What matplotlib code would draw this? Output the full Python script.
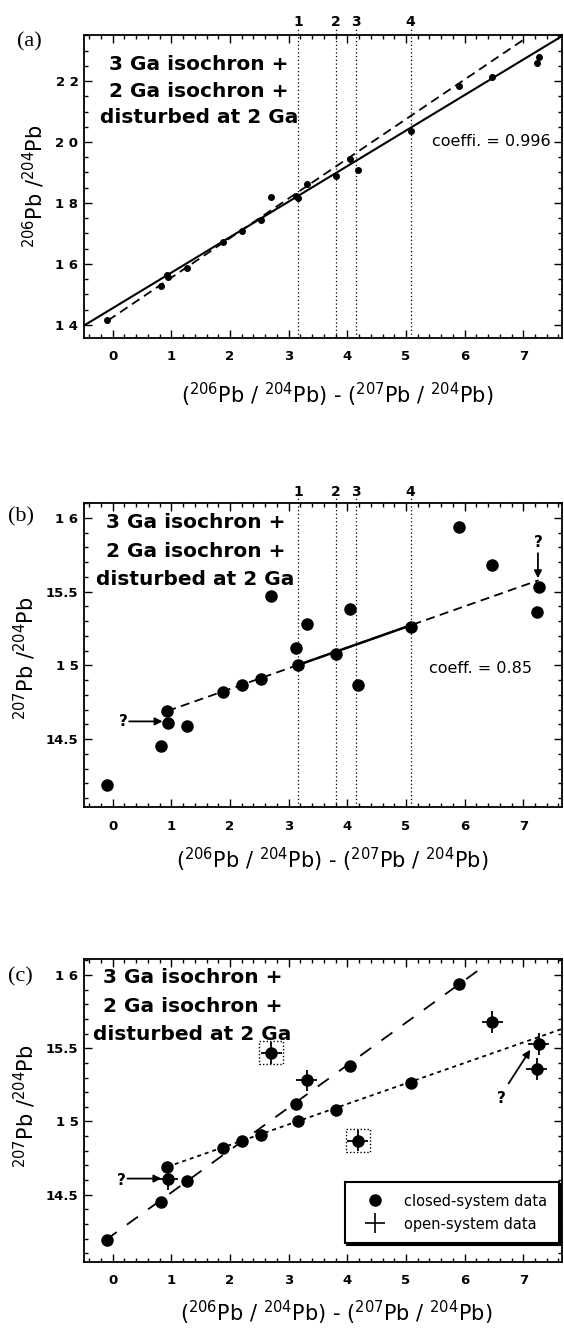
import matplotlib
matplotlib.use('Agg')
import matplotlib.pyplot as plt
from matplotlib.lines import Line2D
from matplotlib.patches import Rectangle
from matplotlib.ticker import MultipleLocator, FuncFormatter
import numpy as np

plt.rcParams['font.family'] = ['DejaVu Sans']
plt.rcParams['mathtext.fontset'] = 'dejavusans'

# values
x_diff = [-0.10, 0.82, 0.93, 0.94, 1.27, 1.88, 2.20, 2.52, 2.70, 3.12,
          3.16, 3.31, 3.80, 4.05, 4.18, 5.09, 5.90, 6.47, 7.23, 7.26]
pb206 = [14.15, 15.29, 15.63, 15.56, 15.88, 16.71, 17.09, 17.43, 18.18, 18.24,
         18.16, 18.62, 18.90, 19.45, 19.07, 20.36, 21.84, 22.14, 22.60, 22.79]
pb207 = [14.19, 14.45, 14.69, 14.61, 14.59, 14.82, 14.87, 14.91, 15.47, 15.12,
         15.00, 15.28, 15.08, 15.38, 14.87, 15.26, 15.94, 15.68, 15.36, 15.53]
open_system = [False, False, False, True, False, False, False, False, True, False,
               False, True, False, False, True, False, False, True, True, True]
boxed = [False, False, False, False, False, False, False, False, True, False,
         False, False, False, False, True, False, False, False, False, False]

ref_x = [3.16, 3.80, 4.14, 5.08]
ref_labels = ['1', '2', '3', '4']

# fitted lines: (intercept, slope, x_start, x_end)
fit_a_solid = (14.55, 1.165, -0.5, 7.7)
fit_a_dash = (14.25, 1.30, -0.08, 7.06)
fit_b = (14.56, 0.14, 0.93, 7.26)
fit_b_solid = (14.56, 0.14, 3.16, 5.09)
fit_c_steep = (14.225, 0.29, -0.12, 6.28)
fit_c_shallow = (14.56, 0.14, 0.93, 7.7)

title_lines = ['3 Ga isochron +', '2 Ga isochron +', 'disturbed at 2 Ga']

W, H = 564, 1330
fig = plt.figure(figsize=(W / 100, H / 100), dpi=100)


def add_axes(left, top, right, bottom):
    return fig.add_axes([left / W, 1 - bottom / H, (right - left) / W, (bottom - top) / H])


def spaced(v, pos):
    if abs(v - round(v)) < 1e-6:
        return ' '.join(str(int(round(v))))
    return f'{v:g}'


def style(ax, ylim, ymajor, yminor):
    ax.set_xlim(-0.49, 7.66)
    ax.set_ylim(*ylim)
    ax.xaxis.set_major_locator(MultipleLocator(1))
    ax.xaxis.set_minor_locator(MultipleLocator(0.2))
    ax.yaxis.set_major_locator(MultipleLocator(ymajor))
    ax.yaxis.set_minor_locator(MultipleLocator(yminor))
    ax.yaxis.set_major_formatter(FuncFormatter(spaced))
    ax.tick_params(which='both', direction='in', top=True, right=True, width=1.0)
    ax.tick_params(which='major', length=6)
    ax.tick_params(which='minor', length=3)
    ax.tick_params(axis='x', pad=9, labelsize=9.5)
    ax.tick_params(axis='y', pad=4, labelsize=9.5)
    for lab in ax.get_xticklabels() + ax.get_yticklabels():
        lab.set_fontweight('bold')
    for s in ax.spines.values():
        s.set_linewidth(1.3)


def line(ax, fit, **kw):
    b0, m, x0, x1 = fit
    xs = np.array([x0, x1])
    ax.plot(xs, b0 + m * xs, color='k', **kw)


def title_block(ax, xc, ys):
    for t, y in zip(title_lines, ys):
        ax.text(xc, y, t, transform=ax.transAxes, ha='center', va='baseline',
                fontsize=14.5, fontweight='bold')


def ref_lines(ax, ytxt):
    tr = ax.get_xaxis_transform()
    for xv, lab in zip(ref_x, ref_labels):
        ax.plot([xv, xv], [0, 1.02], transform=tr, color='k', lw=0.9,
                ls=(0, (1, 2)), clip_on=False)
        ax.text(xv, ytxt, lab, transform=tr, ha='center', va='center', fontsize=10,
                fontweight='bold')


def labels(ax, ylab, ylx, yly, xlx, xly):
    ax.text(ylx, yly, ylab, transform=ax.transAxes, rotation=90, ha='center',
            va='center', fontsize=15)
    ax.text(xlx, xly, r'($^{206}$Pb / $^{204}$Pb) - ($^{207}$Pb / $^{204}$Pb)',
            transform=ax.transAxes, ha='center', va='center', fontsize=15)


def question(ax, txt_xy, tail, head):
    ax.text(txt_xy[0], txt_xy[1], '?', ha='center', va='center', fontsize=11,
            fontweight='bold')
    ax.annotate('', xy=head, xytext=tail,
                arrowprops=dict(arrowstyle='-|>', color='k', lw=1.3, mutation_scale=11,
                                shrinkA=0, shrinkB=0))


# ---------- (a)
axa = add_axes(84, 35, 562, 338)
style(axa, (13.57, 23.51), 2, 0.5)
line(axa, fit_a_solid, lw=1.5)
line(axa, fit_a_dash, lw=1.3, ls=(0, (5, 3)))
axa.plot(x_diff, pb206, 'o', color='k', ms=4)
ref_lines(axa, 1.044)
title_block(axa, 0.24, [0.884, 0.796, 0.709])
axa.text(0.976, 0.648, 'coeffi. = 0.996', transform=axa.transAxes, ha='right',
         va='center', fontsize=11.5)
labels(axa, r'$^{206}$Pb /$^{204}$Pb', -0.105, 0.50, 0.53, -0.188)
fig.text(17 / W, 1 - 42 / H, '(a)', family='Liberation Serif', fontsize=16,
         va='center', ha='left')

# ---------- (b)
axb = add_axes(84, 503, 562, 807)
style(axb, (14.04, 16.10), 0.5, 0.1)
line(axb, fit_b, lw=1.3, ls=(0, (5, 3)))
line(axb, fit_b_solid, lw=1.8)
axb.plot(x_diff, pb207, 'o', color='k', ms=8)
ref_lines(axb, 1.035)
title_block(axb, 0.233, [0.917, 0.823, 0.730])
axb.text(0.938, 0.457, 'coeff. = 0.85', transform=axb.transAxes, ha='right',
         va='center', fontsize=11.5)
question(axb, (0.18, 14.62), (0.28, 14.62), (0.85, 14.62))
question(axb, (7.25, 15.83), (7.25, 15.76), (7.25, 15.59))
labels(axb, r'$^{207}$Pb /$^{204}$Pb', -0.123, 0.49, 0.52, -0.174)
fig.text(8 / W, 1 - 517 / H, '(b)', family='Liberation Serif', fontsize=16,
         va='center', ha='left')

# ---------- (c)
axc = add_axes(84, 959, 562, 1262)
style(axc, (14.04, 16.11), 0.5, 0.1)
line(axc, fit_c_steep, lw=1.3, ls=(0, (7.5, 7)))
line(axc, fit_c_shallow, lw=1.3, ls=(0, (2.2, 2.2)))
axc.plot(x_diff, pb207, 'o', color='k', ms=8)
xo = [x for x, f in zip(x_diff, open_system) if f]
yo = [y for y, f in zip(pb207, open_system) if f]
axc.errorbar(xo, yo, xerr=0.18, yerr=0.075, fmt='none', ecolor='k', elinewidth=1.3,
             capsize=0)
for x, y, f in zip(x_diff, pb207, boxed):
    if f:
        axc.add_patch(Rectangle((x - 0.21, y - 0.08), 0.42, 0.16, fill=False,
                                ec='k', lw=1.0, ls=(0, (1, 1.5))))
title_block(axc, 0.227, [0.920, 0.826, 0.733])
question(axc, (0.15, 14.60), (0.25, 14.61), (0.83, 14.61))
question(axc, (6.63, 15.16), (6.75, 15.26), (7.12, 15.49))
labels(axc, r'$^{207}$Pb /$^{204}$Pb', -0.123, 0.515, 0.527, -0.169)
fig.text(8 / W, 1 - 977 / H, '(c)', family='Liberation Serif', fontsize=16,
         va='center', ha='left')

handles = [Line2D([], [], marker='o', color='k', ls='none', ms=8),
           Line2D([], [], marker='+', color='k', ls='none', ms=15, mew=1.2)]
leg = axc.legend(handles, ['closed-system data', 'open-system data'],
                 loc='lower right', bbox_to_anchor=(0.994, 0.062), borderaxespad=0,
                 fancybox=False, edgecolor='k', framealpha=1,
                 prop={'size': 10.5},
                 borderpad=0.8, handlelength=2.6, handletextpad=0.7, labelspacing=0.55,
                 shadow={'ox': 1.5, 'oy': -1.5, 'color': 'k', 'alpha': 1})
leg.get_frame().set_linewidth(1.5)

fig.savefig('out.png', dpi=100)
